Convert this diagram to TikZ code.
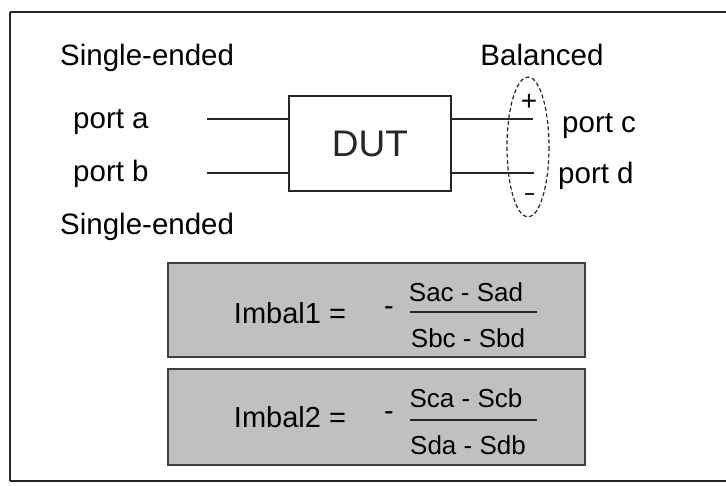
\documentclass[tikz,border=0pt]{standalone}
\usepackage{fontspec}
\setmainfont{Liberation Sans}
\definecolor{boxgray}{HTML}{C0C0C0}
\definecolor{edgegray}{HTML}{404040}
\begin{document}
\begin{tikzpicture}[x=1pt,y=-1pt,
  lbl/.style={font=\fontsize{29.5}{32}\selectfont, inner sep=0pt},
  frm/.style={font=\fontsize{29}{32}\selectfont, inner sep=0pt},
  frac/.style={font=\fontsize{26}{29}\selectfont, inner sep=0pt},
  wire/.style={line width=1.5pt, black!85},
  frameline/.style={line width=2pt, black!85},
  grbox/.style={draw=edgegray, fill=boxgray, line width=2pt, minimum width=417pt, inner sep=0pt}]
\useasboundingbox (0,0) rectangle (726,486);
% frame (open on the right)
\coordinate (ftl) at (10,12);
\coordinate (fbl) at (10,481);
\coordinate (ftr) at (726,12);
\coordinate (fbr) at (726,481);
\draw[frameline] (ftl) -- (ftr);
\draw[frameline] (ftl) -- (fbl);
\draw[frameline] (fbl) -- (fbr);
% DUT
\node[draw, line width=1.5pt, black!85, minimum width=162pt, minimum height=95pt, inner sep=0pt,
      font=\fontsize{37}{40}\selectfont] (dut) at (370,143.5) {DUT};
% labels
\node[lbl, anchor=west] (se1) at (60,58) {Single-ended};
\node[lbl, anchor=west] (pa) at (73,122) {port a};
\node[lbl, anchor=west] (pb) at (73,174) {port b};
\node[lbl, anchor=west] (se2) at (60,227) {Single-ended};
\node[lbl] (bal) at (542,55) {Balanced};
\node[lbl, anchor=west] (pc) at (562,126) {port c};
\node[lbl, anchor=west] (pd) at (558,176) {port d};
% wire ends
\coordinate (a0) at (207,119);
\coordinate (b0) at (207,173);
\coordinate (c1) at (533,119);
\coordinate (d1) at (534,173);
\draw[wire] (a0) -- (dut.west |- a0);
\draw[wire] (b0) -- (dut.west |- b0);
\draw[wire] (dut.east |- c1) -- (c1);
\draw[wire] (dut.east |- d1) -- (d1);
% balanced ellipse
\draw[line width=1.2pt, black!85, dash pattern=on 4pt off 2.5pt] (528,147) ellipse [x radius=21, y radius=70];
\node[font=\fontsize{28}{30}\selectfont, inner sep=0pt] (plus) at (529,102) {+};
\draw[line width=2.5pt, black!85] (525,194) -- (534,194);
% formula boxes
\node[grbox, minimum height=94pt] (box1) at (376.5,310) {};
\node[grbox, minimum height=96pt] (box2) at (376.5,417) {};
\node[frm] (im1) at (290,313) {Imbal1 =};
\node[frm] (m1) at (389,311) {-};
\node[frac] (n1) at (466,292) {Sac - Sad};
\node[frac] (d1t) at (468,338) {Sbc - Sbd};
\draw[line width=1.5pt, black!85] (410,312) -- (537,312);
\node[frm] (im2) at (290,417) {Imbal2 =};
\node[frm] (m2) at (389,416) {-};
\node[frac] (n2) at (466,398) {Sca - Scb};
\node[frac] (d2t) at (468,445) {Sda - Sdb};
\draw[line width=1.5pt, black!85] (410,420) -- (537,420);
\end{tikzpicture}
\end{document}
